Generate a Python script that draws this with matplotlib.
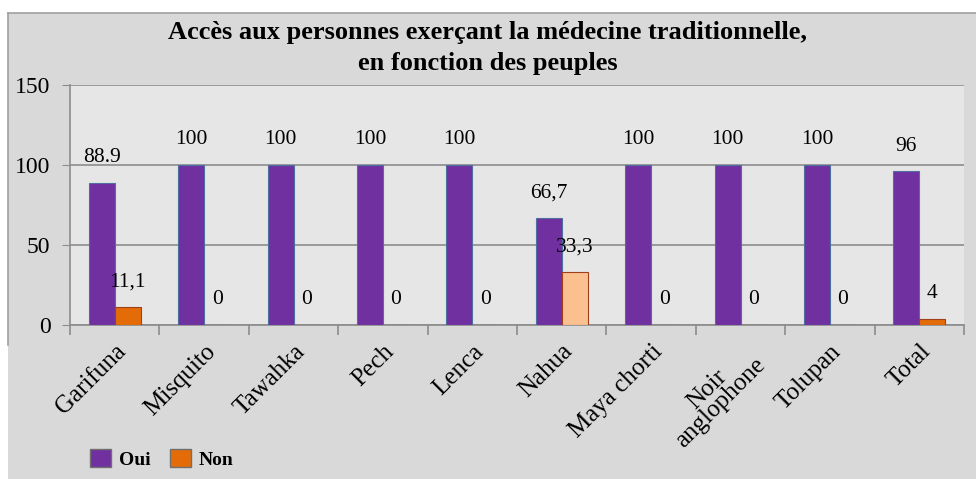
import matplotlib.pyplot as plt
import numpy as np
from matplotlib.patches import Rectangle, Patch
from matplotlib.lines import Line2D

plt.rcParams['font.family'] = ['Liberation Serif', 'DejaVu Serif']

peuples = ['Garifuna', 'Misquito', 'Tawahka', 'Pech', 'Lenca', 'Nahua',
           'Maya chorti', 'Noir\nanglophone', 'Tolupan', 'Total']
oui = [88.9, 100, 100, 100, 100, 66.7, 100, 100, 100, 96]
non = [11.1, 0, 0, 0, 0, 33.3, 0, 0, 0, 4]
oui_txt = ['88.9', '100', '100', '100', '100', '66,7', '100', '100', '100', '96']
non_txt = ['11,1', '0', '0', '0', '0', '33,3', '0', '0', '0', '4']

c_oui = '#7030a0'
c_non = '#e36c09'
c_non_nahua = '#fac090'

fig = plt.figure(figsize=(9.76, 4.79), dpi=100)
fig.patch.set_facecolor('white')

# fond gris du graphique
fig.patches.append(Rectangle((8 / 976, 0), 1 - 8 / 976, 1 - 13 / 479,
                             transform=fig.transFigure, facecolor='#d9d9d9',
                             edgecolor='none', zorder=-10))
fig.lines.append(Line2D([8 / 976, 1], [1 - 13 / 479, 1 - 13 / 479],
                        transform=fig.transFigure, color='#a0a0a0', lw=1.2, zorder=-9))
fig.lines.append(Line2D([8 / 976, 8 / 976], [1 - 345 / 479, 1 - 13 / 479],
                        transform=fig.transFigure, color='#a0a0a0', lw=1.2, zorder=-9))

ax = fig.add_axes([70 / 976, 1 - 325 / 479, (964 - 70) / 976, (325 - 85) / 479])
ax.set_facecolor('#e6e6e6')

x = np.arange(len(peuples))
w = 0.29
couleurs_non = [c_non_nahua if p == 'Nahua' else c_non for p in peuples]
ax.bar(x - w / 2, oui, w, color=c_oui, edgecolor='#4f6fa0', lw=0.8, zorder=3)
ax.bar(x + w / 2, non, w, color=couleurs_non, edgecolor='#a0401a', lw=0.8, zorder=3)

for i in range(len(peuples)):
    ax.annotate(oui_txt[i], (x[i] - w / 2, oui[i]), xytext=(0, 18),
                textcoords='offset points', ha='center', va='center', fontsize=15.5)
    ax.annotate(non_txt[i], (x[i] + w / 2, non[i]), xytext=(0, 18),
                textcoords='offset points', ha='center', va='center', fontsize=15.5)

ax.set_xlim(-0.5, len(peuples) - 0.5)
ax.set_ylim(0, 150)
ax.set_yticks([0, 50, 100, 150])
ax.yaxis.grid(True, color='#8c8c8c', lw=1.2, zorder=1)
ax.set_axisbelow(True)
ax.tick_params(axis='y', length=6, color='#8c8c8c', labelsize=17, pad=8)

ax.set_xticks(x)
ax.set_xticklabels(peuples, rotation=45, ha='right', va='top',
                   rotation_mode='anchor', fontsize=18,
                   multialignment='center', linespacing=0.85)
ax.tick_params(axis='x', which='major', length=0, pad=11)
ax.set_xticks(np.arange(-0.5, len(peuples), 1), minor=True)
ax.tick_params(axis='x', which='minor', length=7, color='#8c8c8c', width=1.2)

for s in ['top', 'right']:
    ax.spines[s].set_visible(False)
ax.spines['left'].set_color('#8c8c8c')
ax.spines['bottom'].set_color('#8c8c8c')
ax.spines['left'].set_linewidth(1.2)
ax.spines['bottom'].set_linewidth(1.2)

fig.text(0.5, 1 - 48 / 479, 'Accès aux personnes exerçant la médecine traditionnelle,\nen fonction des peuples',
         ha='center', va='center', fontsize=19, fontweight='bold', linespacing=1.4)

handles = [Patch(facecolor=c_oui, edgecolor='#707070'),
           Patch(facecolor=c_non, edgecolor='#707070')]
fig.legend(handles, ['Oui', 'Non'], loc='lower left', bbox_to_anchor=(72 / 976, -0.015),
           ncol=2, frameon=False, prop={'weight': 'bold', 'size': 14},
           handlelength=1.1, handleheight=1.0, handletextpad=0.4, columnspacing=1.0)

fig.savefig('out.png', dpi=100)
